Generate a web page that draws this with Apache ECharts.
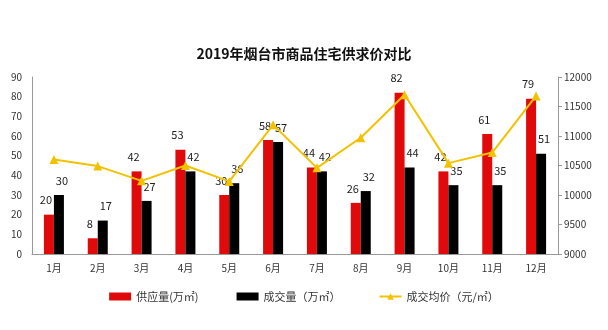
<!DOCTYPE html>
<html><head><meta charset="utf-8">
<script src="https://cdn.jsdelivr.net/npm/echarts@6/dist/echarts.min.js"></script>
<style>html,body{margin:0;padding:0;background:#fff}#c{width:608px;height:330px}</style>
</head><body><div id="c"></div>
<script>
var categories = ['1月','2月','3月','4月','5月','6月','7月','8月','9月','10月','11月','12月'];
var supply = [20, 8, 42, 53, 30, 58, 44, 26, 82, 42, 61, 79];
var deals = [30, 17, 27, 42, 36, 57, 42, 32, 44, 35, 35, 51];
var price = [10600, 10490, 10240, 10500, 10230, 11190, 10460, 10970, 11700, 10540, 10720, 11680];
var leftTicks = {min: 0, max: 90, interval: 10};
var rightTicks = {min: 9000, max: 12000, interval: 500};

var font = "'Microsoft YaHei','Noto Sans CJK SC',sans-serif";
var chart = echarts.init(document.getElementById('c'));
chart.setOption({
  backgroundColor: '#fff',
  animation: false,
  textStyle: {fontFamily: font},
  title: {text: '2019年烟台市商品住宅供求价对比', left: 'center', top: 42,
    textStyle: {fontSize: 14, fontWeight: 'bold', color: '#111', fontFamily: font}},
  legend: {bottom: 23, left: 'center', itemWidth: 22, itemHeight: 8, itemGap: 38,
    textStyle: {fontSize: 11, color: '#333', fontFamily: font},
    data: [{name: '供应量(万㎡)', icon: 'rect'}, {name: '成交量（万㎡）', icon: 'rect'}, {name: '成交均价（元/㎡）'}]},
  grid: {left: 32, right: 50, top: 77, bottom: 76},
  xAxis: {type: 'category', data: categories,
    axisLine: {lineStyle: {color: '#999'}}, axisTick: {show: false},
    axisLabel: {color: '#333', fontSize: 10, margin: 9}},
  yAxis: [
    {type: 'value', min: leftTicks.min, max: leftTicks.max, interval: leftTicks.interval,
      axisLine: {show: true, lineStyle: {color: '#999'}}, axisTick: {show: false}, splitLine: {show: false},
      axisLabel: {color: '#333', fontSize: 10, margin: 10}},
    {type: 'value', min: rightTicks.min, max: rightTicks.max, interval: rightTicks.interval, position: 'right',
      axisLine: {show: true, lineStyle: {color: '#999'}}, axisTick: {show: true, length: 4, lineStyle: {color: '#999'}}, splitLine: {show: false},
      axisLabel: {color: '#333', fontSize: 10, margin: 6, formatter: function (v) { return String(v); }}}
  ],
  series: [
    {name: '供应量(万㎡)', type: 'bar', data: supply, barWidth: 10, barGap: '0%',
      itemStyle: {color: '#e00a0a'},
      label: {show: true, position: 'top', color: '#222', fontSize: 11, offset: [-3, -4]}},
    {name: '成交量（万㎡）', type: 'bar', data: deals, barWidth: 10,
      itemStyle: {color: '#000'},
      label: {show: true, position: 'top', color: '#222', fontSize: 11, offset: [3, -4]}},
    {name: '成交均价（元/㎡）', type: 'line', yAxisIndex: 1, data: price,
      symbol: 'triangle', symbolSize: 9,
      lineStyle: {color: '#f2c200', width: 2}, itemStyle: {color: '#f2c200'}}
  ]
});
</script></body></html>
